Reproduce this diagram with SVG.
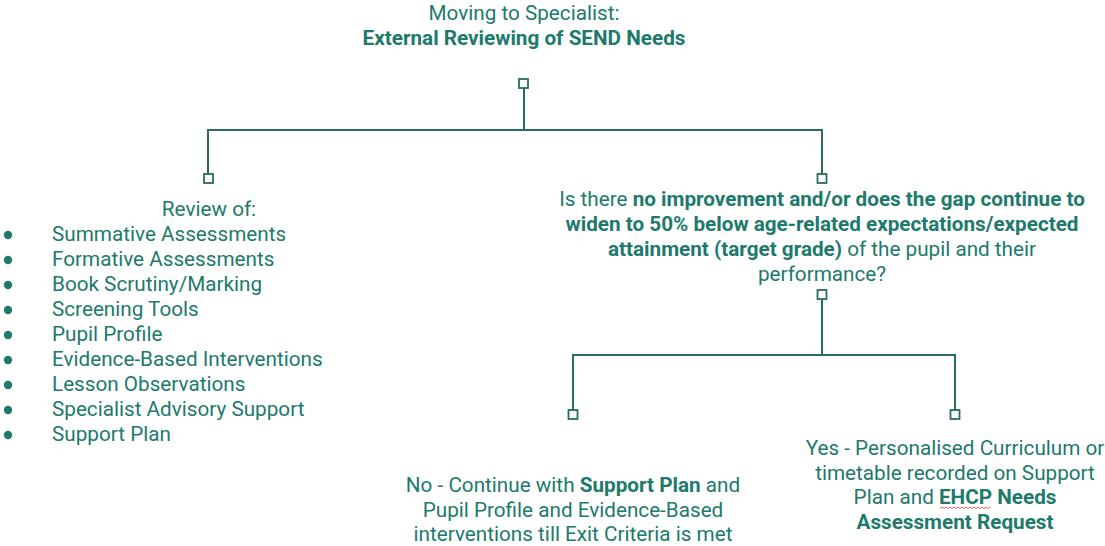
<svg xmlns="http://www.w3.org/2000/svg" width="1105" height="546" viewBox="0 0 1105 546">
<style>
text{font-family:Roboto,"Liberation Sans",sans-serif;fill:#207a6b;font-size:20.7px}
.t{text-anchor:middle}
.b{font-weight:bold}
.ln{stroke:#2b6c62;stroke-width:2;fill:none}
.sq{stroke:#2b6c62;stroke-width:1.8;fill:#fff}
</style>
<rect width="1105" height="546" fill="#fff"/>
<g id="connectors">
<path class="ln" d="M524 88V130M208 174V130H822V174"/>
<path class="ln" d="M822 299V355M573 410V355H955V410"/>
</g>
<g id="squares">
<rect class="sq" x="519" y="79" width="9" height="9"/>
<rect class="sq" x="204" y="174" width="9" height="9"/>
<rect class="sq" x="817.5" y="174" width="9" height="9"/>
<rect class="sq" x="817.5" y="290" width="9" height="9"/>
<rect class="sq" x="568.5" y="410" width="9" height="9"/>
<rect class="sq" x="950.5" y="410" width="9" height="9"/>
</g>
<g id="title">
<text class="t" x="524" y="20">Moving to Specialist:</text>
<text class="t b" x="524" y="45">External Reviewing of SEND Needs</text>
</g>
<g id="review">
<text class="t" x="209" y="216">Review of:</text>
<g fill="#207a6b">
<circle cx="8" cy="235" r="4.2"/><circle cx="8" cy="260" r="4.2"/><circle cx="8" cy="285" r="4.2"/>
<circle cx="8" cy="310" r="4.2"/><circle cx="8" cy="335" r="4.2"/><circle cx="8" cy="360" r="4.2"/>
<circle cx="8" cy="385" r="4.2"/><circle cx="8" cy="410" r="4.2"/><circle cx="8" cy="435" r="4.2"/>
</g>
<text x="52" y="241">Summative Assessments</text>
<text x="52" y="266">Formative Assessments</text>
<text x="52" y="291">Book Scrutiny/Marking</text>
<text x="52" y="316">Screening Tools</text>
<text x="52" y="341">Pupil Profile</text>
<text x="52" y="366">Evidence-Based Interventions</text>
<text x="52" y="391">Lesson Observations</text>
<text x="52" y="416">Specialist Advisory Support</text>
<text x="52" y="441">Support Plan</text>
</g>
<g id="question">
<text class="t" x="822" y="206">Is there <tspan class="b">no improvement and/or does the gap continue to</tspan></text>
<text class="t b" x="822" y="231">widen to 50% below age-related expectations/expected</text>
<text class="t" x="822" y="256"><tspan class="b">attainment (target grade)</tspan> of the pupil and their</text>
<text class="t" x="822" y="281">performance?</text>
</g>
<g id="no">
<text class="t" x="573" y="492">No - Continue with <tspan class="b">Support Plan</tspan> and</text>
<text class="t" x="573" y="517">Pupil Profile and Evidence-Based</text>
<text class="t" x="573" y="541">interventions till Exit Criteria is met</text>
</g>
<g id="yes">
<text class="t" x="955" y="455">Yes - Personalised Curriculum or</text>
<text class="t" x="955" y="480">timetable recorded on Support</text>
<text class="t" x="955" y="504">Plan and <tspan class="b">EHCP Needs</tspan></text>
<text class="t b" x="955" y="529">Assessment Request</text>
<path d="M940 508.5l2 -1.5l2 1.5l2 -1.5l2 1.5l2 -1.5l2 1.5l2 -1.5l2 1.5l2 -1.5l2 1.5l2 -1.5l2 1.5l2 -1.5l2 1.5l2 -1.5l2 1.5l2 -1.5l2 1.5l2 -1.5l2 1.5l2 -1.5l2 1.5l2 -1.5l2 1.5l2 -1.5" stroke="#e05050" stroke-width="0.9" fill="none"/>
</g>
</svg>
